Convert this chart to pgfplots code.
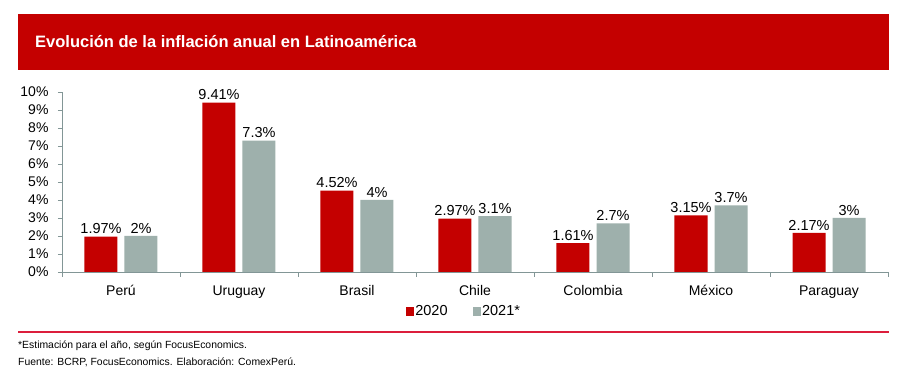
\documentclass[border=0pt]{standalone}
\usepackage{pgfplots}
\pgfplotsset{compat=1.18}
\usepackage{fontspec}
\setmainfont{Liberation Sans}
\definecolor{hdr}{RGB}{196,0,0}
\definecolor{cred}{RGB}{196,0,0}
\definecolor{cgray}{RGB}{158,176,172}
\definecolor{rline}{RGB}{220,30,60}
\definecolor{axgray}{RGB}{130,150,150}
\begin{document}
\begin{tikzpicture}[x=1pt,y=1pt]
\fill[white] (0,0) rectangle (906,379);
\fill[hdr] (18,379-14) rectangle (889,379-70);
\node[anchor=west,text=white,font=\fontsize{16.5}{18}\selectfont\bfseries, inner sep=0pt] at (35,379-42) {Evolución de la inflación anual en Latinoamérica};
\begin{axis}[
  at={(62pt,107pt)}, anchor=south west,
  scale only axis, width=826pt, height=180pt,
  xmin=-0.5, xmax=6.5, ymin=0, ymax=10,
  axis x line=bottom, axis y line=left,
  axis line style={-, axgray, line width=0.8pt},
  ybar=7pt, bar width=33pt,
  xtick={0,...,6},
  xticklabels={Perú,Uruguay,Brasil,Chile,Colombia,México,Paraguay},
  major x tick style={draw=none},
  minor xtick={-0.5,0.5,...,6.5},
  minor x tick style={axgray, line width=0.8pt},
  minor tick length=5pt,
  ytick={0,1,...,10},
  yticklabel={\pgfmathprintnumber{\tick}\%},
  y tick style={axgray, line width=0.8pt},
  tick align=outside, major tick length=4pt,
  /pgf/number format/assume math mode=true,
  tick label style={font=\fontsize{14}{16}\selectfont},
  xticklabel style={yshift=-6pt},
  yticklabel style={xshift=-6pt},
  nodes near coords={\pgfmathprintnumber{\pgfplotspointmeta}\%},
  nodes near coords style={font=\fontsize{14.5}{16}\selectfont, black, inner sep=2.5pt},
  legend columns=2,
  legend style={draw=none, at={(0.486,-0.217)}, anchor=center, font=\fontsize{14.5}{16}\selectfont, column sep=0pt, inner sep=0pt,
    nodes={inner sep=1pt},
    /tikz/every even column/.append style={column sep=24pt}},
  legend image code/.code={\fill[#1] (0pt,-4.5pt) rectangle (8.5pt,4pt);},
]
\addplot[fill=cred, draw=none] coordinates {(0,1.97) (1,9.41) (2,4.52) (3,2.97) (4,1.61) (5,3.15) (6,2.17)};
\addplot[fill=cgray, draw=none] coordinates {(0,2) (1,7.3) (2,4) (3,3.1) (4,2.7) (5,3.7) (6,3)};
\legend{2020,2021*}
\end{axis}
\draw[rline, line width=1.5pt] (18,379-332) -- (889,379-332);
\node[anchor=west, font=\fontsize{10.4}{12}\selectfont, inner sep=0pt] at (18,379-346) {*Estimación para el año, según FocusEconomics.};
\node[anchor=west, font=\fontsize{10.4}{12}\selectfont, inner sep=0pt] at (18,379-362) {Fuente: BCRP, FocusEconomics. Elaboración: ComexPerú.};
\end{tikzpicture}
\end{document}
